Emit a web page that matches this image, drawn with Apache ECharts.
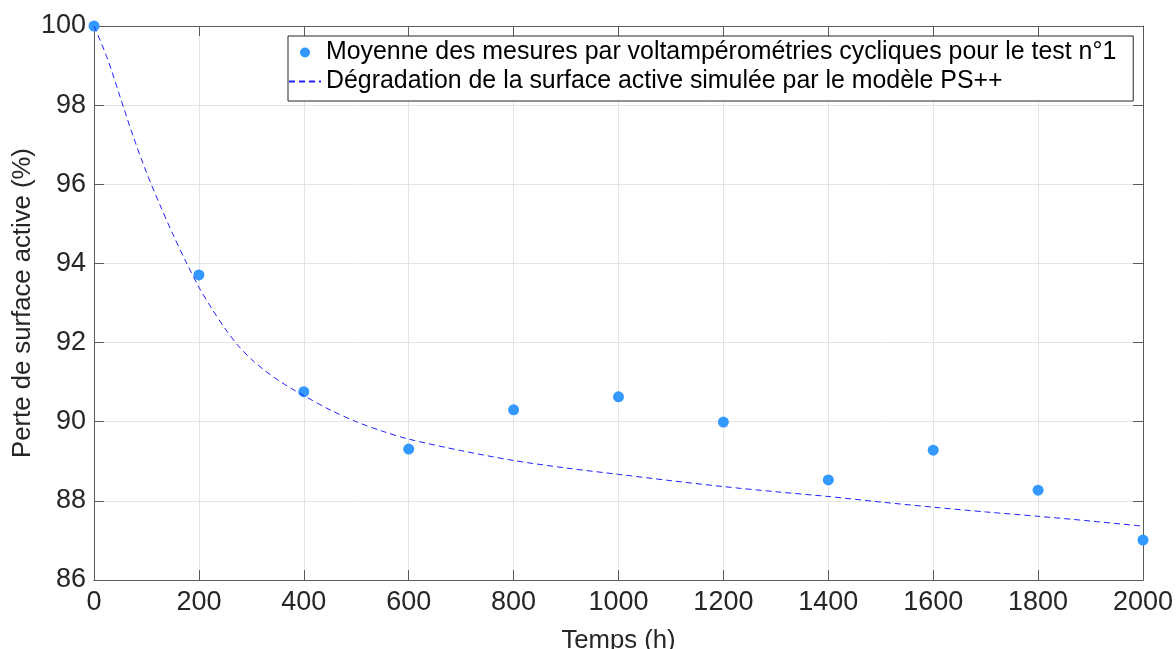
<!DOCTYPE html>
<html>
<head>
<meta charset="utf-8">
<script src="https://cdn.jsdelivr.net/npm/echarts@6/dist/echarts.min.js"></script>
<style>
  html, body { margin: 0; padding: 0; background: #ffffff; }
  #chart { width: 1176px; height: 649px; }
</style>
</head>
<body>
<div id="chart"></div>
<script>
// Measured mean active-surface values (cyclic voltammetry, test n°1)
const measureHours = [0, 200, 400, 600, 800, 1000, 1200, 1400, 1600, 1800, 2000];
const measureValues = [100, 93.71, 90.76, 89.31, 90.30, 90.63, 89.99, 88.53, 89.28, 88.27, 87.01];

// Simulated degradation curve from the PS++ model
const modelHours = [0, 25, 50, 75, 100, 125, 150, 175, 200, 225, 250, 275, 300, 325, 350, 375, 400,
  450, 500, 550, 600, 700, 800, 900, 1000, 1100, 1200, 1300, 1400, 1500, 1600, 1700, 1800, 1900, 2000];
const modelValues = [100, 99.2, 98.2, 97.2, 96.3, 95.5, 94.75, 94.05, 93.4, 92.85, 92.35, 91.92, 91.58,
  91.3, 91.06, 90.85, 90.66, 90.3, 90.0, 89.76, 89.56, 89.27, 89.02, 88.83, 88.67, 88.51, 88.36,
  88.23, 88.11, 87.97, 87.84, 87.72, 87.61, 87.49, 87.36];

const xTicks = { min: 0, max: 2000, interval: 200 };
const yTicks = { min: 86, max: 100, interval: 2 };

const measureName = 'Moyenne des mesures par voltampérométries cycliques pour le test n°1';
const modelName = 'Dégradation de la surface active simulée par le modèle PS++';

const FONT = "'Liberation Sans', Arial, Helvetica, sans-serif";
const AXIS_COLOR = '#5a5a5a';
const TEXT_COLOR = '#262626';
const GRID_COLOR = '#e4e4e4';

const zip = (xs, ys) => xs.map((x, i) => [x, ys[i]]);

const boxAxis = (extra) => Object.assign({
  type: 'value',
  axisLine: { show: true, onZero: false, lineStyle: { color: AXIS_COLOR, width: 1 } },
  axisTick: { show: true, inside: true, length: 10, lineStyle: { color: AXIS_COLOR, width: 1 } },
  axisLabel: { show: false },
  splitLine: { show: false }
}, extra);

const tickLabel = (margin) => ({
  show: true,
  fontFamily: FONT,
  fontSize: 27,
  color: TEXT_COLOR,
  margin: margin,
  formatter: (v) => String(v)
});

const chart = echarts.init(document.getElementById('chart'), null, { renderer: 'canvas' });

chart.setOption({
  animation: false,
  backgroundColor: '#ffffff',
  textStyle: { fontFamily: FONT },
  grid: { left: 94, right: 33, top: 26, bottom: 69, containLabel: false, outerBoundsMode: 'none' },
  legend: {
    orient: 'vertical',
    left: 288,
    top: 36,
    padding: [4, 17, 7, 0],
    itemGap: 4,
    itemWidth: 32,
    itemHeight: 10,
    backgroundColor: '#ffffff',
    borderColor: '#262626',
    borderWidth: 1,
    borderRadius: 0,
    textStyle: { fontFamily: FONT, fontSize: 24.9, color: '#000000', lineHeight: 25 },
    data: [
      { name: measureName, icon: 'circle' },
      { name: modelName, itemStyle: { color: 'rgba(0,0,0,0)', borderWidth: 0 } }
    ]
  },
  xAxis: [
    boxAxis(Object.assign({}, xTicks, {
      position: 'bottom',
      name: 'Temps (h)',
      nameLocation: 'middle',
      nameGap: 48,
      nameMoveOverlap: false,
      nameTextStyle: { fontFamily: FONT, fontSize: 25.7, color: TEXT_COLOR },
      axisLabel: tickLabel(9),
      splitLine: { show: true, lineStyle: { color: GRID_COLOR, width: 1 } }
    })),
    boxAxis(Object.assign({}, xTicks, { position: 'top' }))
  ],
  yAxis: [
    boxAxis(Object.assign({}, yTicks, {
      position: 'left',
      name: 'Perte de surface active (%)',
      nameLocation: 'middle',
      nameGap: 58,
      nameMoveOverlap: false,
      nameTextStyle: { fontFamily: FONT, fontSize: 25.7, color: TEXT_COLOR },
      axisLabel: tickLabel(8),
      splitLine: { show: true, lineStyle: { color: GRID_COLOR, width: 1 } }
    })),
    boxAxis(Object.assign({}, yTicks, { position: 'right' }))
  ],
  series: [
    {
      name: measureName,
      type: 'scatter',
      xAxisIndex: 0,
      yAxisIndex: 0,
      symbol: 'circle',
      symbolSize: 11,
      itemStyle: { color: '#3399ff', opacity: 1 },
      data: zip(measureHours, measureValues),
      z: 3
    },
    {
      name: modelName,
      type: 'line',
      xAxisIndex: 0,
      yAxisIndex: 0,
      smooth: 0.3,
      symbol: 'none',
      lineStyle: { color: '#2020ff', width: 1, type: [6, 4] },
      itemStyle: { color: '#2020ff' },
      data: zip(modelHours, modelValues),
      z: 4
    }
  ]
});
</script>
</body>
</html>
